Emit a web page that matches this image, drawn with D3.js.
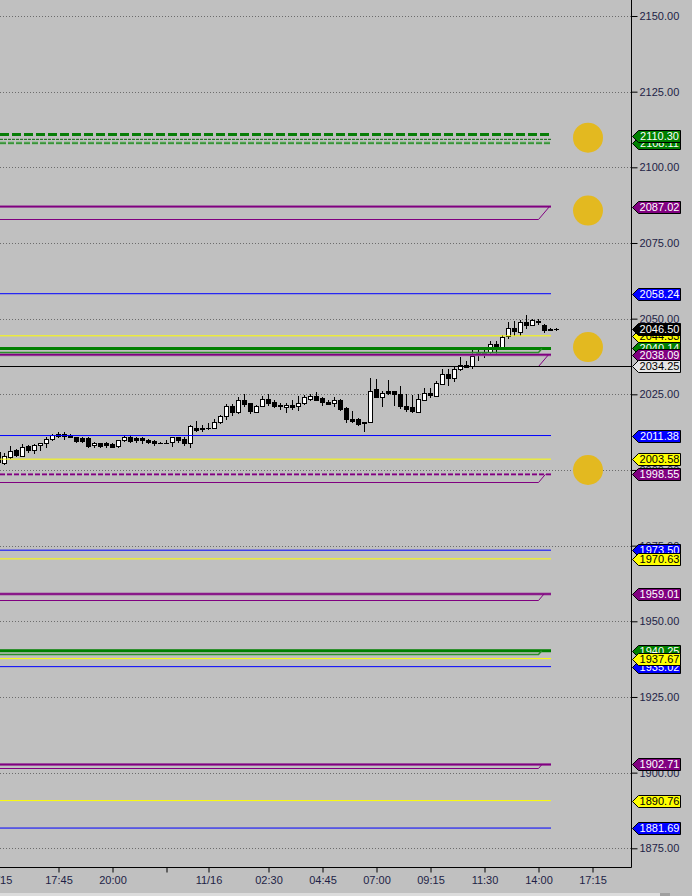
<!DOCTYPE html>
<html><head><meta charset="utf-8">
<script src="https://cdn.jsdelivr.net/npm/d3@7"></script>
<style>html,body{margin:0;padding:0;background:#c0c0c0;overflow:hidden}</style>
</head><body>
<script>
// ---------------- DATA ----------------
const firstIndex = -1;
const opens  = [2006.0,2002.25,2004.25,2006.5,2004.75,2008.0,2006.75,2008.25,2008.75,2010.25,2012.0,2012.0,2011.5,2011.0,2010.5,2010.5,2008.25,2009.0,2008.75,2008.5,2008.0,2009.75,2011.0,2010.5,2010.5,2009.75,2009.5,2009.0,2009.0,2009.25,2010.75,2010.25,2008.75,2014.0,2013.75,2013.75,2014.0,2015.75,2017.75,2021.0,2019.0,2023.25,2022.0,2019.25,2021.0,2023.5,2022.5,2021.5,2020.75,2021.5,2021.0,2022.0,2023.5,2024.5,2023.75,2022.5,2022.0,2023.25,2020.5,2017.0,2016.75,2016.0,2016.0,2026.75,2024.0,2026.0,2026.0,2025.25,2021.25,2020.75,2019.25,2023.25,2025.5,2024.5,2028.5,2031.75,2030.5,2033.25,2034.75,2034.5,2039.0,2038.5,2039.0,2041.75,2040.75,2044.25,2047.0,2045.75,2049.0,2047.75,2049.25,2047.75,2046.5,2046.5];
const highs  = [2006.5,2005.75,2008.0,2007.0,2008.5,2008.25,2008.5,2009.0,2010.75,2012.0,2012.5,2012.5,2011.75,2011.0,2011.0,2010.75,2009.25,2009.0,2009.25,2008.75,2010.0,2011.5,2011.5,2010.75,2010.75,2010.25,2009.75,2009.25,2010.0,2011.0,2011.0,2010.75,2015.0,2016.25,2015.0,2015.5,2016.75,2018.25,2021.75,2021.75,2024.0,2025.0,2022.25,2021.5,2024.5,2025.25,2023.0,2022.25,2022.25,2023.0,2024.5,2024.75,2025.25,2025.75,2024.0,2023.25,2024.0,2023.5,2020.75,2019.5,2017.25,2016.0,2030.25,2030.0,2026.25,2029.75,2026.25,2027.75,2025.0,2024.75,2025.0,2027.25,2027.25,2029.5,2033.25,2033.25,2034.25,2037.25,2036.0,2039.75,2039.75,2039.75,2042.5,2042.5,2044.75,2048.75,2049.25,2049.5,2051.25,2050.0,2050.0,2048.25,2046.75,2046.75];
const lows   = [2001.75,2002.0,2004.0,2004.5,2004.5,2006.0,2005.75,2006.75,2007.75,2010.0,2010.75,2010.25,2010.75,2009.25,2009.25,2007.75,2007.75,2007.75,2007.75,2007.5,2007.75,2009.5,2009.25,2009.25,2008.75,2008.75,2008.25,2008.75,2008.75,2008.0,2009.25,2008.25,2007.75,2012.75,2012.75,2013.5,2013.75,2015.5,2017.0,2018.25,2018.75,2021.0,2018.75,2019.0,2021.0,2021.5,2020.75,2020.25,2019.0,2020.25,2019.75,2021.75,2023.0,2023.0,2021.5,2021.75,2021.25,2019.75,2015.75,2015.75,2015.0,2012.75,2015.75,2024.0,2021.25,2025.0,2021.5,2020.5,2019.5,2019.0,2019.0,2023.0,2024.0,2024.5,2028.25,2028.0,2029.5,2033.0,2034.0,2033.75,2036.25,2037.25,2038.75,2038.5,2040.5,2043.75,2044.5,2044.5,2046.75,2047.75,2048.25,2045.5,2046.25,2046.25];
const closes = [2002.5,2004.5,2006.25,2005.0,2007.75,2006.5,2008.25,2008.75,2010.25,2011.5,2011.25,2011.25,2010.75,2009.5,2009.5,2008.0,2009.0,2008.0,2008.25,2007.75,2009.75,2011.0,2009.5,2009.75,2009.75,2009.25,2008.75,2009.0,2009.0,2010.75,2010.0,2008.75,2014.5,2013.25,2013.5,2013.75,2016.0,2017.75,2021.0,2019.25,2023.25,2021.75,2019.5,2021.25,2023.5,2022.25,2021.0,2021.0,2021.5,2020.75,2022.25,2024.0,2024.5,2023.0,2022.5,2021.75,2023.25,2020.0,2017.0,2016.25,2015.25,2015.5,2026.25,2024.25,2025.5,2025.5,2025.25,2021.25,2020.0,2019.5,2023.5,2025.5,2024.75,2028.75,2031.75,2030.5,2033.25,2034.75,2034.0,2037.75,2038.25,2039.0,2041.5,2040.75,2044.0,2046.75,2046.0,2048.75,2047.75,2049.5,2049.0,2046.25,2046.25,2046.5];

const priceTicks = [1875, 1900, 1925, 1950, 1975, 2000, 2025, 2050, 2075, 2100, 2125, 2150];
const timeTickIndex  = [-1, 9, 18, 27, 34, 44, 53, 62, 71, 80, 89, 98];
const timeTickLabels = ["11/15", "17:45", "20:00", "", "11/16", "02:30", "04:45", "07:00", "09:15", "11:30", "14:00", "17:15"];

// horizontal levels (value + kind)
const levelValues = [2110.85, 2109.25, 2108.0, 2087.02, 2058.24, 2044.33, 2040.14, 2038.09, 2011.38, 2003.58, 1998.55, 1973.50, 1970.63, 1959.01, 1940.25, 1937.67, 1935.02, 1902.71, 1890.76, 1881.69];
const levelKinds  = ["greenDashBold","greenDashThin","greenDashHalo","purpleBold","blue","yellow","greenBold","purpleBold","blue","yellow","purpleDash","blue","yellow","purpleBold","greenBold","yellow","blue","purpleBold","yellow","blue"];
// lower lines that ramp up into a level
const rampLow   = [2082.93, 2039.0, 2034.5, 1996.0, 1956.95, 1939.1, 1901.55];
const rampHigh  = [2087.02, 2040.14, 2038.09, 1998.55, 1959.01, 1940.25, 1902.71];
const rampKinds = ["purple","green","purple","purple","purple","green","purple"];
const lastPrice = 2034.25;

// right-axis price tags, in drawing order
const tagValues = [2108.11, 2110.30, 2087.02, 2058.24, 2044.33, 2040.14, 2046.50, 2038.09, 2034.25, 2011.38, 2003.58, 1998.55, 1973.50, 1970.63, 1959.01, 1940.25, 1935.02, 1937.67, 1902.71, 1890.76, 1881.69];
const tagKinds  = ["green","green","purple","blue","yellow","green","black","purple","last","blue","yellow","purple","blue","yellow","purple","green","blue","yellow","purple","yellow","blue"];

// gold markers
const markerValues = [2109.8, 2085.7, 2040.6, 2000.0];
const markerIndex = 97.25;

// ---------------- STYLES ----------------
const BG = "#c0c0c0";
const FONT = "'Liberation Sans', Arial, sans-serif";
const TEXT = "#1e1e46";
const levelStyles = {
  greenDashBold: [{c:"#077d07", w:3, d:"9,3"}],
  greenDashThin: [{c:"#0b640b", w:1, d:"3,1"}],
  greenDashHalo: [{c:"#84bb84", w:3, d:"6,2"}, {c:"#1f861f", w:1.4, d:"6,2"}],
  purpleBold:    [{c:"#a46aa4", w:3}, {c:"#800080", w:1.4}],
  purpleDash:    [{c:"#a86ea8", w:2.6, d:"5,2"}, {c:"#800080", w:1.4, d:"5,2"}],
  greenBold:     [{c:"#008000", w:3}],
  blue:          [{c:"#0000ff", w:1}],
  yellow:        [{c:"#ffff00", w:1}]
};
const rampStyles = { purple:{c:"#800080", w:1}, green:{c:"#2b8f2b", w:1.6} };
const tagStyles = {
  green:{f:"#008000", t:"#ffffff"}, purple:{f:"#800080", t:"#ffffff"}, blue:{f:"#0000ff", t:"#ffffff"},
  yellow:{f:"#ffff00", t:"#000000"}, black:{f:"#000000", t:"#ffffff"}, last:{f:"#e6e6e6", t:"#000000"}
};

// ---------------- CHART ----------------
const W = 692, H = 896, axisX = 631.5, axisY = 867.5;
const svg = d3.select("body").append("svg").attr("width", W).attr("height", H)
  .style("font-family", FONT).style("display","block");
svg.append("rect").attr("width", W).attr("height", H).attr("fill", BG);

const y = d3.scaleLinear().domain([1875, 2150]).range([848.3, 16]);
const x = d3.scaleLinear().domain([0, 92]).range([4.5, 556.5]);
const py = v => Math.round(y(v)) + 0.5;

const plot = svg.append("g");
const clip = svg.append("clipPath").attr("id","pc");
clip.append("rect").attr("x",0).attr("y",0).attr("width",axisX).attr("height",axisY);
plot.attr("clip-path","url(#pc)");

// grid
plot.append("g").selectAll("line").data(priceTicks).join("line")
  .attr("x1", 0).attr("x2", axisX).attr("y1", d => py(d)).attr("y2", d => py(d))
  .attr("stroke", "#6c6c6c").attr("stroke-dasharray", "1,2");

// candles
const candles = opens.map((o, k) => ({i: k + firstIndex, o, h: highs[k], l: lows[k], c: closes[k]}));
const cg = plot.append("g");
candles.forEach(d => {
  const cx = x(d.i);
  cg.append("line").attr("x1", cx).attr("x2", cx).attr("y1", Math.round(y(d.h))).attr("y2", Math.round(y(d.l)) + 1)
    .attr("stroke", "#000").attr("stroke-width", 1);
  const top = Math.round(y(Math.max(d.o, d.c))), bot = Math.round(y(Math.min(d.o, d.c)));
  if (bot - top < 1) {
    cg.append("line").attr("x1", cx - 2.5).attr("x2", cx + 2.5).attr("y1", top + 0.5).attr("y2", top + 0.5)
      .attr("stroke", "#000");
  } else {
    const up = d.c > d.o;
    cg.append("rect").attr("x", cx - 2).attr("y", top + 0.5).attr("width", 4).attr("height", bot - top)
      .attr("fill", up ? "#ffffff" : "#000000").attr("stroke", "#000").attr("stroke-width", 1);
  }
});

// level lines
const lineEnd = x(91) + 0.5;
const lg = plot.append("g");
levelValues.forEach((v, k) => {
  levelStyles[levelKinds[k]].forEach(s => {
    lg.append("line").attr("x1", 0).attr("x2", lineEnd).attr("y1", y(v)).attr("y2", y(v))
      .attr("stroke", s.c).attr("stroke-width", s.w).attr("stroke-dasharray", s.d || null);
  });
});
// ramp lines
rampLow.forEach((v, k) => {
  const s = rampStyles[rampKinds[k]];
  const x0 = x(89), yl = py(v), yh = y(rampHigh[k]);
  const x1 = Math.min(lineEnd, x0 + (yl - yh) * 0.85);
  lg.append("path").attr("d", `M0,${yl}L${x0},${yl}L${x1},${yh}`)
    .attr("fill", "none").attr("stroke", s.c).attr("stroke-width", s.w);
});
// last price line
lg.append("line").attr("x1", 0).attr("x2", axisX + 1).attr("y1", py(lastPrice)).attr("y2", py(lastPrice))
  .attr("stroke", "#000").attr("stroke-width", 1);

// gold markers
plot.append("g").selectAll("circle").data(markerValues).join("circle")
  .attr("cx", x(markerIndex)).attr("cy", d => y(d)).attr("r", 15).attr("fill", "#e3b920");

// axes
const yAxis = d3.axisRight(y).tickValues(priceTicks).tickFormat(d3.format(".2f")).tickSize(6).tickPadding(2);
const ya = svg.append("g").attr("transform", `translate(${axisX},0)`).call(yAxis);
ya.select(".domain").remove();
ya.selectAll(".tick line").attr("stroke", "#000");
ya.selectAll(".tick text").attr("fill", TEXT).style("font-size", "11px").style("font-family", FONT);
svg.append("line").attr("x1", axisX).attr("x2", axisX).attr("y1", 0).attr("y2", axisY).attr("stroke", "#000");

const xAxis = d3.axisBottom(x).tickValues(timeTickIndex)
  .tickFormat((d, k) => timeTickLabels[k]).tickSize(5).tickPadding(4);
const xa = svg.append("g").attr("transform", `translate(0,${axisY})`).call(xAxis);
xa.select(".domain").remove();
xa.selectAll(".tick line").attr("stroke", "#000");
xa.selectAll(".tick text").attr("fill", TEXT).style("font-size", "11px").style("font-family", FONT);
svg.append("line").attr("x1", 0).attr("x2", axisX).attr("y1", axisY).attr("y2", axisY).attr("stroke", "#000");

// price tags
const tg = svg.append("g");
tagValues.forEach((v, k) => {
  const s = tagStyles[tagKinds[k]];
  const cy = Math.round(y(v)) + 0.5, tip = 632.5, bx = 638.5, rx = 680.5, hh = 6;
  tg.append("path").attr("d", `M${tip},${cy}L${bx},${cy - hh}L${rx},${cy - hh}L${rx},${cy + hh}L${bx},${cy + hh}Z`)
    .attr("fill", s.f).attr("stroke", "#000").attr("stroke-width", 1);
  tg.append("text").attr("x", 659.5).attr("y", cy).attr("dy", "0.36em").attr("text-anchor", "middle")
    .attr("fill", s.t).style("font-size", "11px").text(d3.format(".2f")(v));
});

// bottom scrollbar edge
svg.append("rect").attr("x", 0).attr("y", 893).attr("width", 660).attr("height", 3).attr("fill", "#dcdcdc");
svg.append("rect").attr("x", 660).attr("y", 893).attr("width", 10).attr("height", 3).attr("fill", "#a0a0a0");
</script>
</body></html>
